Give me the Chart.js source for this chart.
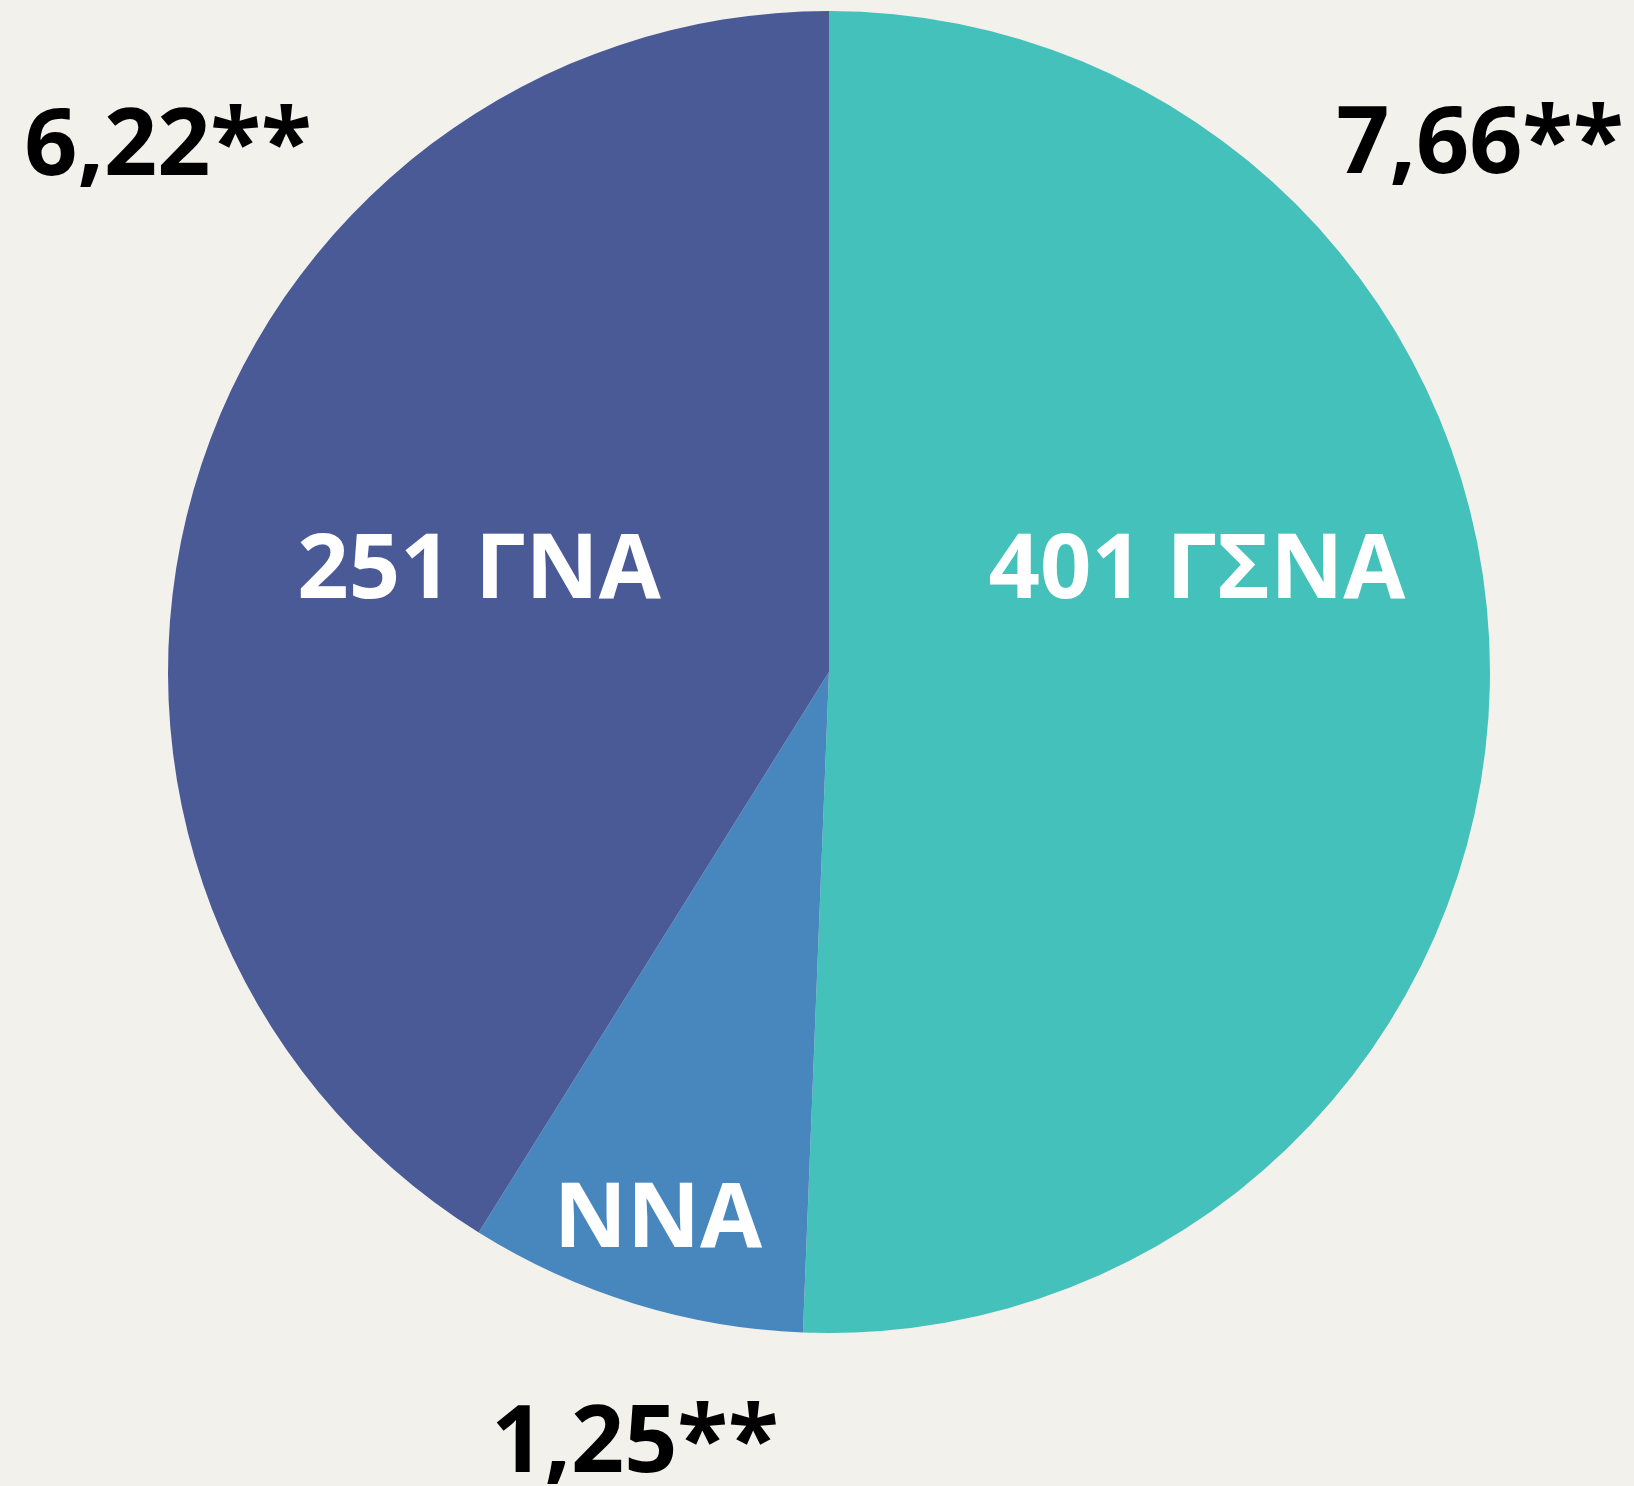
<!DOCTYPE html>
<html>
<head>
<meta charset="utf-8">
<script src="https://cdn.jsdelivr.net/npm/chart.js@4"></script>
<style>
  html, body { margin: 0; padding: 0; background: #F2F1EC; }
  canvas { display: block; }
</style>
</head>
<body>
<canvas id="pie" width="1634" height="1486"></canvas>
<script>
// Slice order follows the picture: clockwise from 12 o'clock.
const categories = ['401 ΓΣΝΑ', 'ΝΝΑ', '251 ΓΝΑ'];
const values = [7.66, 1.25, 6.22];
const valueLabels = ['7,66**', '1,25**', '6,22**'];
const sliceColors = ['#44C1BA', '#4787BE', '#4A5A97'];

// Where each slice's two texts sit: [inside name, outside value].
const labelSpots = [
    { name: [1197, 598], value: [1480, 173] },
    { name: [658, 1247], value: [635, 1472] },
    { name: [479, 598], value: [168, 175] }
];

const pieLabels = {
    id: 'pieLabels',
    afterDatasetsDraw(chart) {
        const ctx = chart.ctx;
        ctx.save();
        ctx.textAlign = 'center';
        ctx.textBaseline = 'alphabetic';
        categories.forEach(function(name, i) {
            const spot = labelSpots[i];
            ctx.font = 'bold 90px "Open Sans"';
            ctx.fillStyle = '#FFFFFF';
            ctx.fillText(name, spot.name[0], spot.name[1]);
            ctx.font = 'bold 93px "Open Sans"';
            ctx.fillStyle = '#000000';
            ctx.fillText(valueLabels[i], spot.value[0], spot.value[1]);
        });
        ctx.restore();
    }
};

new Chart(document.getElementById('pie'), {
    type: 'pie',
    data: {
        labels: categories,
        datasets: [
            {
                data: values,
                backgroundColor: sliceColors,
                borderWidth: 0,
            }
        ]
    },
    options: {
        responsive: false,
        animation: false,
        layout: { padding: { left: 168, right: 144, top: 11, bottom: 153 } },
        plugins: {
            legend: { display: false },
            tooltip: { enabled: false }
        }
    },
    plugins: [pieLabels]
});
</script>
</body>
</html>
